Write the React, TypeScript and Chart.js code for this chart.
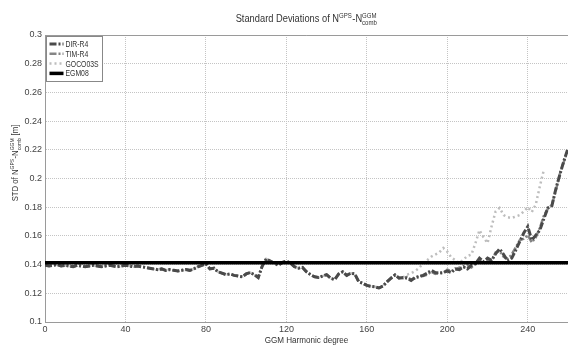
import { useEffect, useRef } from "react";
import { Chart, registerables } from "chart.js";

Chart.register(...registerables);

// Harmonic degree sampling (x values)
const degrees: number[] = Array.from({ length: 131 }, (_, i) => i * 2);

// Values shared by all GGM solutions for degrees 0..174 (they overlap there)
const sharedLow: number[] = [
  0.1395, 0.139, 0.1395, 0.14, 0.139, 0.1395, 0.139, 0.1385, 0.1395, 0.139,
  0.1385, 0.139, 0.1395, 0.139, 0.1385, 0.139, 0.1395, 0.139, 0.1385, 0.139,
  0.1395, 0.139, 0.1385, 0.139, 0.1385,
  0.138, 0.1375, 0.137, 0.1365, 0.137, 0.136, 0.1365, 0.136, 0.1355, 0.136,
  0.1365, 0.136, 0.137, 0.1385, 0.1395, 0.1405, 0.137, 0.1375, 0.135, 0.134,
  0.133, 0.1335, 0.1325, 0.132, 0.1315,
  0.1335, 0.1345, 0.133, 0.131, 0.139, 0.144, 0.1425, 0.141, 0.1395, 0.1415,
  0.1425, 0.141, 0.1385, 0.1375, 0.138, 0.135, 0.133, 0.1315, 0.131, 0.132,
  0.133, 0.1305, 0.1295, 0.1335, 0.135,
  0.1325, 0.134, 0.1335, 0.128, 0.127, 0.1255, 0.1248, 0.1245, 0.1237, 0.125,
  0.128, 0.1305, 0.1328,
];

// Degrees 176..260
const dirTail: number[] = [
  0.1305, 0.131, 0.1305, 0.129, 0.131, 0.1315, 0.1325, 0.134, 0.136, 0.1345,
  0.134, 0.1345, 0.1355, 0.1345, 0.137, 0.1365, 0.1385, 0.137, 0.1395, 0.1405,
  0.1445, 0.142, 0.1445, 0.143, 0.1475, 0.151, 0.147, 0.1425, 0.1445, 0.15,
  0.156, 0.162, 0.1665, 0.157, 0.1605, 0.164, 0.172, 0.1795, 0.181, 0.193,
  0.203, 0.2125, 0.221,
];
const timTail: number[] = [
  0.131, 0.1305, 0.1315, 0.1295, 0.1305, 0.1325, 0.132, 0.133, 0.135, 0.1335,
  0.1345, 0.134, 0.1365, 0.1355, 0.1365, 0.138, 0.1375, 0.1395, 0.138, 0.1415,
  0.143, 0.1405, 0.1435, 0.142, 0.1485, 0.1495, 0.1455, 0.144, 0.147, 0.152,
  0.157, 0.158, 0.1605, 0.1555, 0.159, 0.1655, 0.174, 0.179, 0.1815, 0.192,
  0.2035, 0.212, 0.22,
];
const gocoTail: (number | null)[] = [
  0.1305, 0.131, 0.133, 0.134, 0.1355, 0.1376, 0.141, 0.143, 0.1455, 0.147,
  0.1485, 0.1516, 0.149, 0.145, 0.143, 0.141, 0.1435, 0.146, 0.147, 0.155,
  0.164, 0.159, 0.155, 0.1666, 0.177, 0.1795, 0.1745, 0.173, 0.1725, 0.1735,
  0.1745, 0.177, 0.18, 0.1766, 0.182, 0.1945, 0.206, null, null, null,
  null, null, null,
];
const egm08Value = 0.1413;

const dirR4 = [...sharedLow, ...dirTail];
const timR4 = [...sharedLow, ...timTail];
const goco03s = [...sharedLow, ...gocoTail];
const egm08 = degrees.map(() => egm08Value);

const xTicks = [0, 40, 80, 120, 160, 200, 240];
const seriesNames = ["DIR-R4", "TIM-R4", "GOCO03S", "EGM08"];

const FONT = '"Liberation Sans", Arial, sans-serif';

type Part = { t?: string; sup?: string; sub?: string };

function richWidth(ctx: CanvasRenderingContext2D, parts: Part[], size: number) {
  let w = 0;
  for (const p of parts) {
    if (p.t) {
      ctx.font = `${size}px ${FONT}`;
      w += ctx.measureText(p.t).width;
    } else {
      ctx.font = `${size * 0.65}px ${FONT}`;
      const a = p.sup ? ctx.measureText(p.sup).width : 0;
      const b = p.sub ? ctx.measureText(p.sub).width : 0;
      w += Math.max(a, b) + 0.5;
    }
  }
  return w;
}

// draws rich text starting at (0,0) in current transform
function drawRich(ctx: CanvasRenderingContext2D, parts: Part[], size: number) {
  let cx = 0;
  ctx.textAlign = "left";
  ctx.textBaseline = "alphabetic";
  for (const p of parts) {
    if (p.t) {
      ctx.font = `${size}px ${FONT}`;
      ctx.fillText(p.t, cx, 0);
      cx += ctx.measureText(p.t).width;
    } else {
      ctx.font = `${size * 0.65}px ${FONT}`;
      let w = 0;
      if (p.sup) {
        ctx.fillText(p.sup, cx, -size * 0.42);
        w = Math.max(w, ctx.measureText(p.sup).width);
      }
      if (p.sub) {
        ctx.fillText(p.sub, cx, size * 0.32);
        w = Math.max(w, ctx.measureText(p.sub).width);
      }
      cx += w + 0.5;
    }
  }
}

const titleParts: Part[] = [
  { t: "Standard Deviations of N" },
  { sup: "GPS" },
  { t: "-N" },
  { sup: "GGM", sub: "comb" },
];
const yTitleParts: Part[] = [
  { t: "STD of N" },
  { sup: "GPS" },
  { t: "-N" },
  { sup: "GGM", sub: "comb" },
  { t: " [m]" },
];

const decorPlugin = {
  id: "decor",
  afterDraw(chart: any) {
    const ctx: CanvasRenderingContext2D = chart.ctx;
    const ca = chart.chartArea;
    ctx.save();
    // top box border
    ctx.strokeStyle = "#9a9a9a";
    ctx.lineWidth = 1;
    ctx.setLineDash([]);
    ctx.beginPath();
    ctx.moveTo(ca.left, Math.round(ca.top) + 0.5);
    ctx.lineTo(ca.right, Math.round(ca.top) + 0.5);
    ctx.stroke();

    ctx.fillStyle = "#333";
    const cxMid = (ca.left + ca.right) / 2;
    // title
    const tSize = 10;
    const tsx = 0.93;
    const tw = richWidth(ctx, titleParts, tSize) * tsx;
    ctx.save();
    ctx.translate(cxMid - tw / 2, 22);
    ctx.scale(tsx, 1);
    drawRich(ctx, titleParts, tSize);
    ctx.restore();

    // x title
    ctx.save();
    ctx.font = `9px ${FONT}`;
    ctx.textAlign = "center";
    ctx.textBaseline = "alphabetic";
    ctx.translate(cxMid, 343);
    ctx.scale(0.9, 1);
    ctx.fillText("GGM Harmonic degree", 0, 0);
    ctx.restore();

    // y title (rotated)
    const ySize = 9;
    const ysx = 0.86;
    const yw = richWidth(ctx, yTitleParts, ySize) * ysx;
    ctx.save();
    ctx.translate(18, 163);
    ctx.rotate(-Math.PI / 2);
    ctx.translate(-yw / 2, 0);
    ctx.scale(ysx, 1);
    drawRich(ctx, yTitleParts, ySize);
    ctx.restore();

    // legend
    const lx = ca.left + 1.5;
    const ly = ca.top + 1.5;
    const lw = 56;
    const lh = 45;
    ctx.fillStyle = "#fff";
    ctx.fillRect(lx, ly, lw, lh);
    ctx.strokeStyle = "#888";
    ctx.lineWidth = 1;
    ctx.strokeRect(lx, ly, lw, lh);
    const ds = chart.data.datasets;
    seriesNames.forEach((name, i) => {
      const d = ds[i];
      const yy = ly + 7.5 + i * 9.8;
      ctx.save();
      ctx.strokeStyle = d.borderColor;
      ctx.lineWidth = d.borderWidth;
      ctx.setLineDash(d.borderDash || []);
      ctx.beginPath();
      ctx.moveTo(lx + 3, yy);
      ctx.lineTo(lx + 17, yy);
      ctx.stroke();
      ctx.restore();
      ctx.save();
      ctx.fillStyle = "#333";
      ctx.font = `9px ${FONT}`;
      ctx.textAlign = "left";
      ctx.textBaseline = "middle";
      ctx.translate(lx + 19, yy + 0.5);
      ctx.scale(0.76, 1);
      ctx.fillText(name, 0, 0);
      ctx.restore();
    });
    ctx.restore();
  },
};

export default function App() {
  const canvasRef = useRef<HTMLCanvasElement | null>(null);

  useEffect(() => {
    const canvas = canvasRef.current;
    if (!canvas) return;
    const toPts = (vals: (number | null)[]) => degrees.map((d, i) => ({ x: d, y: vals[i] }));
    const chart = new Chart(canvas, {
      type: "line",
      data: {
        datasets: [
          {
            label: seriesNames[0],
            data: toPts(dirR4) as any,
            borderColor: "#4a4a4a",
            borderWidth: 3,
            borderDash: [7, 2, 2, 2],
            pointRadius: 0,
            tension: 0,
            order: 1,
          },
          {
            label: seriesNames[1],
            data: toPts(timR4) as any,
            borderColor: "#858585",
            borderWidth: 2.5,
            borderDash: [7, 2, 2, 2],
            pointRadius: 0,
            tension: 0,
            order: 2,
          },
          {
            label: seriesNames[2],
            data: toPts(goco03s) as any,
            borderColor: "#bdbdbd",
            borderWidth: 2.5,
            borderDash: [2, 3],
            pointRadius: 0,
            tension: 0,
            spanGaps: false,
            order: 3,
          },
          {
            label: seriesNames[3],
            data: toPts(egm08) as any,
            borderColor: "#000",
            borderWidth: 3.5,
            pointRadius: 0,
            tension: 0,
            order: 0,
          },
        ],
      },
      options: {
        responsive: false,
        animation: false,
        layout: { padding: { top: 35, left: 0, right: 0, bottom: 0 } },
        plugins: {
          legend: { display: false },
          title: { display: false },
          tooltip: { enabled: false },
        },
        scales: {
          x: {
            type: "linear",
            min: 0,
            max: 260,
            afterBuildTicks: (s: any) => {
              s.ticks = xTicks.map((v) => ({ value: v }));
            },
            afterFit: (s: any) => {
              s.height = 23;
            },
            ticks: {
              padding: 2,
              font: { family: FONT, size: 9 },
              color: "#444",
              maxRotation: 0,
            },
            grid: { color: "#c4c4c4", drawTicks: false, lineWidth: 1 },
            border: { display: true, color: "#9a9a9a", width: 1, dash: [1, 1] },
          },
          y: {
            type: "linear",
            min: 0.1,
            max: 0.3,
            afterFit: (s: any) => {
              s.width = 45;
            },
            ticks: {
              stepSize: 0.02,
              padding: 3,
              font: { family: FONT, size: 9 },
              color: "#444",
              callback: (v: any) => String(Number(Number(v).toFixed(2))),
            },
            grid: { color: "#c4c4c4", drawTicks: false, lineWidth: 1 },
            border: { display: true, color: "#9a9a9a", width: 1, dash: [1, 1] },
          },
        },
      },
      plugins: [decorPlugin],
    });
    return () => chart.destroy();
  }, []);

  return (
    <div style={{ position: "fixed", left: 0, top: 0, width: 568, height: 345, background: "#fff" }}>
      <canvas ref={canvasRef} width={568} height={345} style={{ display: "block" }} />
    </div>
  );
}
